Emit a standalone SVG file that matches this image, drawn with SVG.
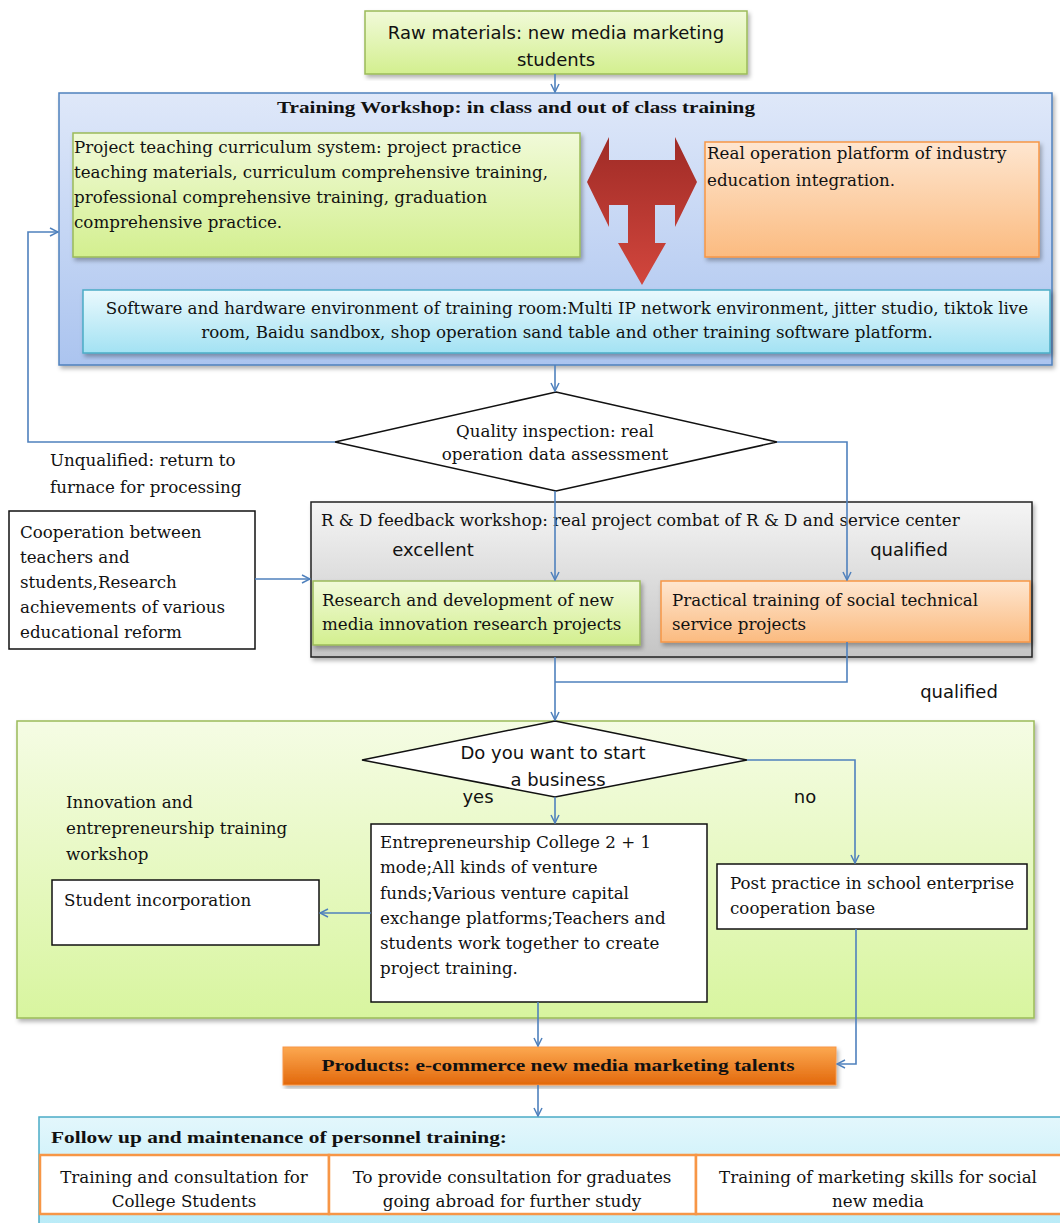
<svg xmlns="http://www.w3.org/2000/svg" width="1060" height="1223" viewBox="0 0 1060 1223">
<defs>
<style>
.s{font-family:"DejaVu Serif","Liberation Serif",serif;font-size:16.7px;fill:#111}
.a{font-family:"DejaVu Sans","Liberation Sans",sans-serif;font-size:18px;fill:#111}
.b{font-family:"Liberation Serif","DejaVu Serif",serif;font-size:17px;font-weight:bold;fill:#111}
.c{text-anchor:middle}
.con{fill:none;stroke:#4f81bd;stroke-width:1.6}
</style>
<linearGradient id="gGreen" x1="0" y1="0" x2="0" y2="1"><stop offset="0" stop-color="#f1fad9"/><stop offset="1" stop-color="#d3ef8f"/></linearGradient>
<linearGradient id="gBig" x1="0" y1="0" x2="0" y2="1"><stop offset="0" stop-color="#f5fce4"/><stop offset="1" stop-color="#d8f59f"/></linearGradient>
<linearGradient id="gBlue" x1="0" y1="0" x2="0" y2="1"><stop offset="0" stop-color="#dfe8f9"/><stop offset="1" stop-color="#abc4ef"/></linearGradient>
<linearGradient id="gOrange" x1="0" y1="0" x2="0" y2="1"><stop offset="0" stop-color="#fee6d0"/><stop offset="1" stop-color="#fbbb80"/></linearGradient>
<linearGradient id="gCyan" x1="0" y1="0" x2="0" y2="1"><stop offset="0" stop-color="#eaf9fd"/><stop offset="1" stop-color="#a3e2f3"/></linearGradient>
<linearGradient id="gGray" x1="0" y1="0" x2="0" y2="1"><stop offset="0" stop-color="#f5f5f5"/><stop offset="1" stop-color="#c4c4c4"/></linearGradient>
<linearGradient id="gProd" x1="0" y1="0" x2="0" y2="1"><stop offset="0" stop-color="#fca850"/><stop offset="1" stop-color="#e2680c"/></linearGradient>
<linearGradient id="gFollow" x1="0" y1="0" x2="0" y2="1"><stop offset="0" stop-color="#e3f7fc"/><stop offset="1" stop-color="#b5eaf7"/></linearGradient>
<linearGradient id="gRed" x1="0" y1="0" x2="0" y2="1"><stop offset="0" stop-color="#9f2b26"/><stop offset="1" stop-color="#d2463d"/></linearGradient>
<filter id="sh" x="-5%" y="-5%" width="110%" height="115%"><feDropShadow dx="2" dy="3" stdDeviation="2" flood-color="#000" flood-opacity="0.3"/></filter>
<marker id="arr" viewBox="0 0 10 10" refX="9" refY="5" markerWidth="10" markerHeight="10" markerUnits="userSpaceOnUse" orient="auto"><path d="M1,1 L9,5 L1,9" fill="none" stroke="#4f81bd" stroke-width="1.5"/></marker>
</defs>
<rect width="1060" height="1223" fill="#fff"/>

<g id="raw">
<rect x="365" y="11" width="382" height="63" fill="url(#gGreen)" stroke="#9bbb59" stroke-width="1.5" filter="url(#sh)"/>
<text class="a c" x="556" y="39">Raw materials: new media  marketing</text>
<text class="a c" x="556" y="66">students</text>
</g>

<g id="workshop">
<rect x="59" y="93" width="993" height="272" fill="url(#gBlue)" stroke="#4f81bd" stroke-width="1.5" filter="url(#sh)"/>
<text class="b c" x="516" y="113" textLength="478" lengthAdjust="spacingAndGlyphs">Training Workshop: in class and out of class training</text>
</g>

<g id="curriculum">
<rect x="73" y="133" width="507" height="124" fill="url(#gGreen)" stroke="#9bbb59" stroke-width="1.5" filter="url(#sh)"/>
<text class="s" x="74" y="153">Project teaching curriculum system: project practice</text>
<text class="s" x="74" y="178">teaching materials, curriculum comprehensive training,</text>
<text class="s" x="74" y="203">professional comprehensive training, graduation</text>
<text class="s" x="74" y="228">comprehensive practice.</text>
</g>

<g id="tarrow">
<polygon points="587,182 609,137 609,160 675,160 675,137 697,182 675,227 675,205 655,205 655,243 666,243 642,285 618,243 628,243 628,205 609,205 609,227" fill="url(#gRed)"/>
</g>

<g id="platform">
<rect x="705" y="142" width="334" height="115" fill="url(#gOrange)" stroke="#f79646" stroke-width="1.5" filter="url(#sh)"/>
<text class="s" x="707" y="159">Real operation platform of industry</text>
<text class="s" x="707" y="186">education integration.</text>
</g>

<g id="software">
<rect x="83" y="290" width="967" height="63" fill="url(#gCyan)" stroke="#4bacc6" stroke-width="1.5" filter="url(#sh)"/>
<text class="s c" x="567" y="314">Software and hardware environment of training room:Multi IP network environment, jitter studio, tiktok live</text>
<text class="s c" x="567" y="338">room, Baidu sandbox, shop operation sand table and other training software platform.</text>
</g>

<g id="quality">
<polygon points="556,392 777,442 556,491 335,442" fill="#fff" stroke="#111" stroke-width="1.5"/>
<text class="s c" x="555" y="437">Quality inspection: real</text>
<text class="s c" x="555" y="460">operation data assessment</text>
</g>

<g id="unqualified">
<text class="s" x="50" y="466">Unqualified: return to</text>
<text class="s" x="50" y="493">furnace for processing</text>
</g>

<g id="cooperation">
<rect x="9" y="511" width="246" height="138" fill="#fff" stroke="#111" stroke-width="1.5"/>
<text class="s" x="20" y="538">Cooperation between</text>
<text class="s" x="20" y="563">teachers and</text>
<text class="s" x="20" y="588">students,Research</text>
<text class="s" x="20" y="613">achievements of various</text>
<text class="s" x="20" y="638">educational reform</text>
</g>

<g id="rd">
<rect x="311" y="502" width="721" height="155" fill="url(#gGray)" stroke="#222" stroke-width="1.5" filter="url(#sh)"/>
<text class="s" x="321" y="526">R &amp; D feedback workshop: real project combat of R &amp; D and service center</text>
<text class="a c" x="433" y="556">excellent</text>
<text class="a c" x="909" y="556">qualified</text>
</g>

<g id="research">
<rect x="313" y="581" width="327" height="64" fill="url(#gGreen)" stroke="#9bbb59" stroke-width="1.5" filter="url(#sh)"/>
<text class="s" x="322" y="606">Research and development of new</text>
<text class="s" x="322" y="630">media innovation research projects</text>
</g>

<g id="practical">
<rect x="661" y="581" width="369" height="61" fill="url(#gOrange)" stroke="#f79646" stroke-width="1.5" filter="url(#sh)"/>
<text class="s" x="672" y="606">Practical training of social technical</text>
<text class="s" x="672" y="630">service projects</text>
</g>

<g id="qualified2">
<text class="a c" x="959" y="698">qualified</text>
</g>

<g id="innovation">
<rect x="17" y="721" width="1017" height="297" fill="url(#gBig)" stroke="#9bbb59" stroke-width="1.5" filter="url(#sh)"/>
<text class="s" x="66" y="808">Innovation and</text>
<text class="s" x="66" y="834">entrepreneurship training</text>
<text class="s" x="66" y="860">workshop</text>
</g>

<g id="business">
<polygon points="555,721 747,760 555,797 362,760" fill="#fff" stroke="#111" stroke-width="1.5"/>
<text class="a c" x="553" y="759">Do  you want to start</text>
<text class="a c" x="558" y="786">a business</text>
<text class="a c" x="478" y="803">yes</text>
<text class="a c" x="805" y="803">no</text>
</g>

<g id="entrepreneurship">
<rect x="371" y="824" width="336" height="178" fill="#fff" stroke="#111" stroke-width="1.5"/>
<text class="s" x="380" y="848">Entrepreneurship College 2 + 1</text>
<text class="s" x="380" y="873">mode;All kinds of venture</text>
<text class="s" x="380" y="899">funds;Various  venture capital</text>
<text class="s" x="380" y="924">exchange platforms;Teachers and</text>
<text class="s" x="380" y="949">students work together to create</text>
<text class="s" x="380" y="974">project training.</text>
</g>

<g id="incorporation">
<rect x="52" y="880" width="267" height="65" fill="#fff" stroke="#111" stroke-width="1.5"/>
<text class="s" x="64" y="906">Student incorporation</text>
</g>

<g id="post">
<rect x="717" y="864" width="310" height="65" fill="#fff" stroke="#111" stroke-width="1.5"/>
<text class="s" x="730" y="889">Post practice in school enterprise</text>
<text class="s" x="730" y="914">cooperation base</text>
</g>

<g id="products">
<rect x="283" y="1047" width="553" height="38" fill="url(#gProd)" stroke="#f79646" stroke-width="1" filter="url(#sh)"/>
<text class="b c" x="558" y="1071" textLength="473" lengthAdjust="spacingAndGlyphs">Products: e-commerce new media marketing talents</text>
</g>

<g id="followup">
<rect x="39" y="1117" width="1030" height="120" fill="url(#gFollow)" stroke="#4bacc6" stroke-width="1.5"/>
<text class="b" x="51" y="1143" textLength="456" lengthAdjust="spacingAndGlyphs">Follow up and maintenance of personnel training:</text>
</g>

<g id="cell1">
<rect x="40" y="1155" width="289" height="59" fill="#fff" stroke="#f79646" stroke-width="2.5"/>
<text class="s c" x="184" y="1183">Training and consultation for</text>
<text class="s c" x="184" y="1207">College Students</text>
</g>
<g id="cell2">
<rect x="329" y="1155" width="367" height="59" fill="#fff" stroke="#f79646" stroke-width="2.5"/>
<text class="s c" x="512" y="1183">To provide consultation for graduates</text>
<text class="s c" x="512" y="1207">going abroad for further study</text>
</g>
<g id="cell3">
<rect x="696" y="1155" width="370" height="59" fill="#fff" stroke="#f79646" stroke-width="2.5"/>
<text class="s c" x="878" y="1183">Training of marketing skills for social</text>
<text class="s c" x="878" y="1207">new media</text>
</g>

<g id="connectors">
<path class="con" d="M555,74 V92" marker-end="url(#arr)"/>
<path class="con" d="M555,365 V391" marker-end="url(#arr)"/>
<path class="con" d="M335,442 H28 V232 H58" marker-end="url(#arr)"/>
<path class="con" d="M777,442 H847 V580" marker-end="url(#arr)"/>
<path class="con" d="M555,491 V580" marker-end="url(#arr)"/>
<path class="con" d="M255,579 H310" stroke-width="3" stroke="#8db0dc" marker-end="url(#arr)"/>
<path class="con" d="M555,657 V720" marker-end="url(#arr)"/>
<path class="con" d="M847,642 V682 H555"/>
<path class="con" d="M555,797 V823" marker-end="url(#arr)"/>
<path class="con" d="M747,760 H855 V863" marker-end="url(#arr)"/>
<path class="con" d="M371,913 H320" marker-end="url(#arr)"/>
<path class="con" d="M538,1002 V1046" marker-end="url(#arr)"/>
<path class="con" d="M856,929 V1064 H837" marker-end="url(#arr)"/>
<path class="con" d="M538,1085 V1116" marker-end="url(#arr)"/>
</g>
</svg>
